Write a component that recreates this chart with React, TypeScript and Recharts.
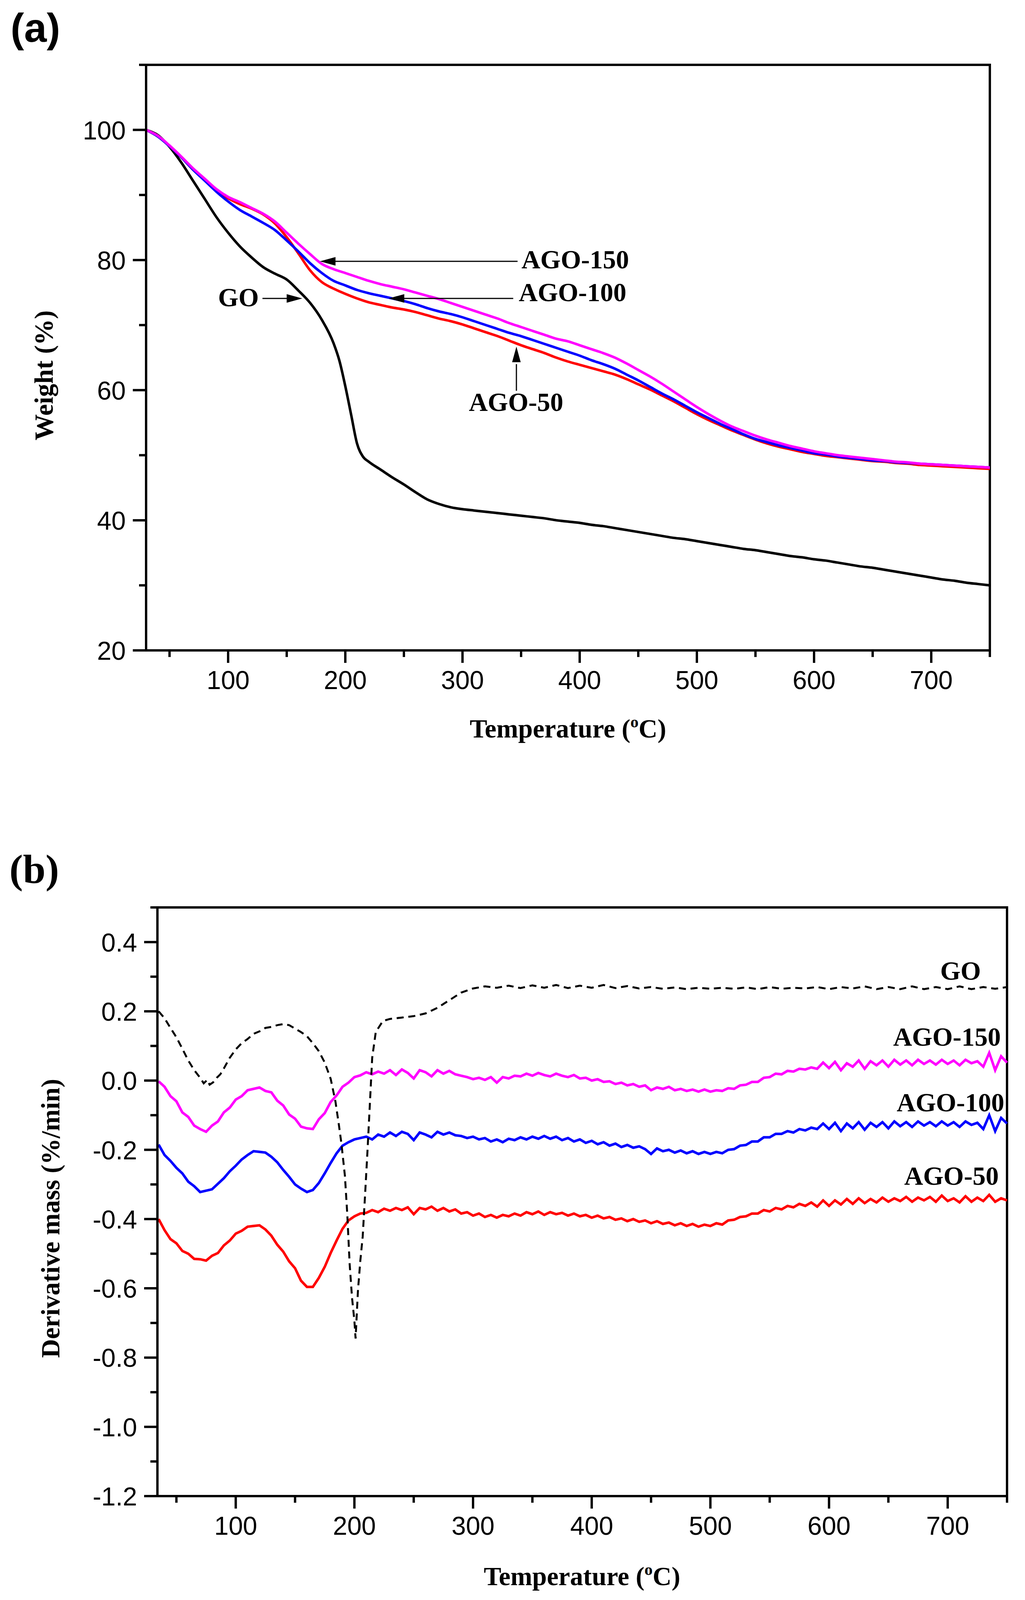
import React from 'react';
import { ComposedChart, Line, Scatter, XAxis, YAxis, ReferenceArea } from 'recharts';

const SANS = '"Liberation Sans", Arial, Helvetica, sans-serif';
const SERIF = '"Liberation Serif", "Times New Roman", Times, serif';

// ---------- (a) TGA ----------
const tgaTemps = [
  30, 40, 50, 60, 70, 80, 90, 100, 110, 120,
  130, 140, 150, 160, 170, 180, 190, 200, 210, 220,
  230, 240, 250, 260, 270, 280, 290, 300, 310, 320,
  330, 340, 350, 360, 370, 380, 390, 400, 410, 420,
  430, 440, 450, 460, 470, 480, 490, 500, 510, 520,
  530, 540, 550, 560, 570, 580, 590, 600, 610, 620,
  630, 640, 650, 660, 670, 680, 690, 700, 710, 720,
  730, 740, 750,
];
const tgaAgo150 = [
  100.0, 99.1, 97.6, 95.9, 94.1, 92.5, 90.9, 89.7, 88.9, 88.0,
  87.1, 85.9, 84.2, 82.5, 80.9, 79.4, 78.6, 78.0, 77.4, 76.8,
  76.3, 75.9, 75.5, 75.0, 74.5, 74.0, 73.4, 72.8, 72.2, 71.6,
  71.0, 70.3, 69.7, 69.1, 68.5, 67.9, 67.5, 66.9, 66.3, 65.7,
  65.0, 64.1, 63.1, 62.1, 61.0, 59.8, 58.6, 57.4, 56.3, 55.3,
  54.4, 53.7, 53.0, 52.4, 51.9, 51.4, 51.0, 50.6, 50.3, 50.0,
  49.8, 49.6, 49.4, 49.2, 49.0, 48.9, 48.7, 48.6, 48.5, 48.4,
  48.3, 48.2, 48.1,
];
const tgaAgo100 = [
  100.0, 99.0, 97.5, 95.8, 93.9, 92.2, 90.5, 89.0, 87.7, 86.7,
  85.7, 84.6, 83.0, 81.3, 79.5, 78.0, 76.8, 76.1, 75.4, 74.9,
  74.5, 74.1, 73.7, 73.2, 72.6, 72.1, 71.7, 71.2, 70.6, 70.0,
  69.4, 68.8, 68.3, 67.7, 67.1, 66.5, 65.9, 65.3, 64.6, 64.0,
  63.3, 62.4, 61.5, 60.5, 59.5, 58.6, 57.6, 56.6, 55.7, 54.8,
  54.0, 53.2, 52.5, 52.0, 51.5, 51.1, 50.7, 50.3, 50.1, 49.8,
  49.6, 49.4, 49.2, 49.1, 48.9, 48.8, 48.7, 48.6, 48.5, 48.4,
  48.3, 48.2, 48.1,
];
const tgaAgo50 = [
  100.0, 99.0, 97.5, 95.8, 93.9, 92.3, 90.8, 89.5, 88.6, 87.9,
  87.0, 85.6, 83.5, 81.0, 78.4, 76.6, 75.6, 74.8, 74.1, 73.5,
  73.1, 72.7, 72.4, 72.0, 71.5, 71.0, 70.6, 70.1, 69.5, 68.9,
  68.3, 67.6, 66.9, 66.3, 65.7, 65.0, 64.4, 63.9, 63.4, 62.9,
  62.4, 61.7, 60.9, 60.1, 59.2, 58.3, 57.3, 56.3, 55.4, 54.6,
  53.8, 53.1, 52.4, 51.8, 51.3, 50.9, 50.5, 50.2, 49.9, 49.7,
  49.5, 49.3, 49.1, 49.0, 48.8, 48.7, 48.5, 48.4, 48.3, 48.2,
  48.1, 48.0, 47.9,
];
const tgaGoTemps = [
  30, 40, 50, 60, 70, 80, 90, 100, 110, 120,
  130, 140, 150, 160, 170, 180, 190, 195, 200, 205,
  210, 215, 220, 230, 240, 250, 260, 270, 280, 290,
  300, 310, 320, 330, 340, 350, 360, 370, 380, 390,
  400, 410, 420, 430, 440, 450, 460, 470, 480, 490,
  500, 510, 520, 530, 540, 550, 560, 570, 580, 590,
  600, 610, 620, 630, 640, 650, 660, 670, 680, 690,
  700, 710, 720, 730, 740, 750,
];
const tgaGo = [
  100.0, 99.2, 97.4, 95.0, 92.2, 89.4, 86.6, 84.2, 82.1, 80.4,
  78.9, 77.9, 77.0, 75.3, 73.4, 70.8, 67.2, 64.5, 60.6, 56.2,
  51.8, 49.8, 49.0, 47.8, 46.6, 45.5, 44.3, 43.2, 42.5, 42.0,
  41.7, 41.5, 41.3, 41.1, 40.9, 40.7, 40.5, 40.3, 40.0, 39.8,
  39.6, 39.3, 39.1, 38.8, 38.5, 38.2, 37.9, 37.6, 37.3, 37.1,
  36.8, 36.5, 36.2, 35.9, 35.6, 35.4, 35.1, 34.8, 34.5, 34.3,
  34.0, 33.8, 33.5, 33.2, 32.9, 32.7, 32.4, 32.1, 31.8, 31.5,
  31.2, 30.9, 30.7, 30.4, 30.2, 30.0,
];
const tgaXMajor = [100, 200, 300, 400, 500, 600, 700];
const tgaXMinor = [50, 150, 250, 350, 450, 550, 650, 750];
const tgaYMajor = [20, 40, 60, 80, 100];
const tgaYMinor = [30, 50, 70, 90, 110];

// annotations for (a)
const tgaArrowTips = [
  { t: 163.3, v: 74.1, dir: 'right' },
  { t: 178.3, v: 79.8, dir: 'left' },
  { t: 237.0, v: 74.1, dir: 'left' },
  { t: 346.0, v: 66.7, dir: 'up' },
];
const tgaArrowGo = [{ t: 129.3, v: 74.1 }, { t: 160.0, v: 74.1 }];
const tgaArrow150 = [{ t: 185.0, v: 79.8 }, { t: 347.0, v: 79.8 }];
const tgaArrow100 = [{ t: 243.0, v: 74.1 }, { t: 343.3, v: 74.1 }];
const tgaArrow50 = [{ t: 346.0, v: 59.9 }, { t: 346.0, v: 64.0 }];
const tgaLabels = [
  { t: 126.2, v: 72.9, text: 'GO', anchor: 'end' },
  { t: 350.3, v: 78.7, text: 'AGO-150', anchor: 'start' },
  { t: 348.0, v: 73.7, text: 'AGO-100', anchor: 'start' },
  { t: 345.7, v: 56.8, text: 'AGO-50', anchor: 'middle' },
];

// ---------- (b) DTG ----------
const dtgTemps = [
  35, 40, 45, 50, 55, 60, 65, 70, 75, 80,
  85, 90, 95, 100, 105, 110, 115, 120, 125, 130,
  135, 140, 145, 150, 155, 160, 165, 170, 175, 180,
  185, 190, 195, 200, 205, 210, 215, 220, 225, 230,
  235, 240, 245, 250, 255, 260, 265, 270, 275, 280,
  285, 290, 295, 300, 305, 310, 315, 320, 325, 330,
  335, 340, 345, 350, 355, 360, 365, 370, 375, 380,
  385, 390, 395, 400, 405, 410, 415, 420, 425, 430,
  435, 440, 445, 450, 455, 460, 465, 470, 475, 480,
  485, 490, 495, 500, 505, 510, 515, 520, 525, 530,
  535, 540, 545, 550, 555, 560, 565, 570, 575, 580,
  585, 590, 595, 600, 605, 610, 615, 620, 625, 630,
  635, 640, 645, 650, 655, 660, 665, 670, 675, 680,
  685, 690, 695, 700, 705, 710, 715, 720, 725, 730,
  735, 740, 745, 750,
];
const dtgAgo150 = [
  -0.002, -0.018, -0.045, -0.060, -0.092, -0.105, -0.130, -0.140, -0.148, -0.130,
  -0.118, -0.092, -0.078, -0.055, -0.045, -0.028, -0.024, -0.020, -0.030, -0.034,
  -0.058, -0.072, -0.098, -0.110, -0.133, -0.138, -0.140, -0.112, -0.094, -0.062,
  -0.043, -0.018, -0.006, 0.010, 0.015, 0.024, 0.018, 0.026, 0.020, 0.030,
  0.016, 0.032, 0.022, 0.006, 0.030, 0.024, 0.012, 0.030, 0.020, 0.028,
  0.018, 0.014, 0.010, 0.004, 0.008, 0.002, 0.010, -0.006, 0.010, 0.006,
  0.014, 0.012, 0.020, 0.014, 0.022, 0.016, 0.012, 0.020, 0.014, 0.010,
  0.016, 0.006, 0.008, 0.000, 0.004, -0.004, -0.002, -0.010, -0.006, -0.014,
  -0.010, -0.018, -0.014, -0.028, -0.020, -0.024, -0.018, -0.028, -0.024, -0.030,
  -0.026, -0.032, -0.026, -0.032, -0.028, -0.030, -0.022, -0.024, -0.014, -0.012,
  -0.004, -0.004, 0.008, 0.010, 0.020, 0.018, 0.028, 0.026, 0.034, 0.032,
  0.038, 0.034, 0.052, 0.036, 0.054, 0.030, 0.050, 0.040, 0.058, 0.034,
  0.056, 0.044, 0.058, 0.040, 0.060, 0.046, 0.058, 0.044, 0.060, 0.048,
  0.058, 0.046, 0.060, 0.048, 0.058, 0.044, 0.060, 0.050, 0.056, 0.040,
  0.080, 0.030, 0.070, 0.052,
];
const dtgAgo100 = [
  -0.185, -0.215, -0.232, -0.252, -0.268, -0.292, -0.305, -0.322, -0.318, -0.314,
  -0.298, -0.282, -0.262, -0.246, -0.228, -0.215, -0.204, -0.206, -0.208, -0.220,
  -0.236, -0.258, -0.278, -0.300, -0.312, -0.322, -0.316, -0.296, -0.268, -0.238,
  -0.210, -0.188, -0.178, -0.170, -0.166, -0.162, -0.170, -0.156, -0.162, -0.150,
  -0.160, -0.148, -0.154, -0.172, -0.150, -0.156, -0.164, -0.148, -0.156, -0.150,
  -0.158, -0.160, -0.166, -0.162, -0.170, -0.166, -0.176, -0.170, -0.178, -0.168,
  -0.172, -0.164, -0.170, -0.162, -0.168, -0.160, -0.168, -0.162, -0.172, -0.166,
  -0.176, -0.170, -0.180, -0.174, -0.184, -0.178, -0.188, -0.182, -0.192, -0.186,
  -0.194, -0.190, -0.198, -0.212, -0.196, -0.204, -0.200, -0.208, -0.202, -0.210,
  -0.204, -0.212, -0.206, -0.212, -0.206, -0.210, -0.200, -0.198, -0.188, -0.186,
  -0.176, -0.176, -0.164, -0.164, -0.154, -0.154, -0.146, -0.150, -0.140, -0.144,
  -0.136, -0.140, -0.124, -0.140, -0.122, -0.146, -0.124, -0.138, -0.120, -0.142,
  -0.122, -0.134, -0.120, -0.138, -0.118, -0.132, -0.120, -0.134, -0.118, -0.130,
  -0.120, -0.132, -0.118, -0.130, -0.120, -0.134, -0.118, -0.128, -0.122, -0.140,
  -0.100, -0.146, -0.108, -0.124,
];
const dtgAgo50 = [
  -0.400, -0.432, -0.458, -0.470, -0.492, -0.500, -0.515, -0.516, -0.520, -0.506,
  -0.498, -0.476, -0.462, -0.442, -0.434, -0.422, -0.420, -0.418, -0.430, -0.448,
  -0.474, -0.494, -0.522, -0.542, -0.578, -0.596, -0.596, -0.570, -0.538, -0.498,
  -0.462, -0.428, -0.404, -0.392, -0.384, -0.382, -0.374, -0.380, -0.370, -0.376,
  -0.368, -0.374, -0.366, -0.386, -0.368, -0.372, -0.364, -0.376, -0.368, -0.378,
  -0.372, -0.384, -0.380, -0.390, -0.384, -0.394, -0.388, -0.396, -0.388, -0.392,
  -0.384, -0.390, -0.380, -0.386, -0.378, -0.388, -0.380, -0.386, -0.382, -0.390,
  -0.384, -0.392, -0.388, -0.396, -0.390, -0.398, -0.394, -0.402, -0.398, -0.406,
  -0.400, -0.408, -0.404, -0.412, -0.406, -0.414, -0.410, -0.418, -0.412, -0.420,
  -0.414, -0.422, -0.416, -0.420, -0.412, -0.416, -0.404, -0.402, -0.394, -0.392,
  -0.384, -0.384, -0.374, -0.378, -0.368, -0.372, -0.362, -0.366, -0.356, -0.362,
  -0.352, -0.364, -0.346, -0.362, -0.346, -0.358, -0.342, -0.356, -0.340, -0.354,
  -0.342, -0.352, -0.338, -0.350, -0.340, -0.348, -0.336, -0.350, -0.338, -0.346,
  -0.336, -0.350, -0.332, -0.348, -0.340, -0.352, -0.334, -0.350, -0.338, -0.348,
  -0.330, -0.350, -0.340, -0.346,
];
const dtgGoTemps = [
  35, 40, 45, 50, 55, 60, 65, 70, 73, 76,
  78, 81, 84, 87, 90, 95, 100, 105, 110, 115,
  120, 125, 130, 135, 140, 145, 150, 155, 160, 165,
  170, 175, 180, 184, 187, 189, 192, 194, 196, 198,
  200, 201, 203, 205, 207, 209, 211, 213, 215, 218,
  224, 230, 240, 250, 260, 270, 280, 290, 300, 310,
  320, 330, 340, 350, 360, 370, 380, 390, 400, 410,
  420, 430, 440, 450, 460, 470, 480, 490, 500, 510,
  520, 530, 540, 550, 560, 570, 580, 590, 600, 610,
  620, 630, 640, 650, 660, 670, 680, 690, 700, 710,
  720, 730, 740, 750,
];
const dtgGo = [
  0.200, 0.180, 0.152, 0.125, 0.092, 0.058, 0.030, 0.008, -0.008, 0.002,
  -0.012, -0.005, 0.008, 0.018, 0.035, 0.066, 0.090, 0.108, 0.120, 0.135,
  0.142, 0.152, 0.155, 0.160, 0.163, 0.160, 0.150, 0.140, 0.128, 0.108,
  0.085, 0.052, 0.005, -0.060, -0.130, -0.180, -0.275, -0.386, -0.530, -0.627,
  -0.694, -0.745, -0.606, -0.520, -0.450, -0.330, -0.205, -0.070, 0.066, 0.140,
  0.172, 0.178, 0.182, 0.186, 0.194, 0.210, 0.232, 0.254, 0.266, 0.272,
  0.268, 0.274, 0.267, 0.275, 0.268, 0.276, 0.267, 0.274, 0.268, 0.276,
  0.267, 0.273, 0.266, 0.270, 0.265, 0.269, 0.264, 0.268, 0.265, 0.268,
  0.265, 0.269, 0.264, 0.270, 0.265, 0.268, 0.266, 0.270, 0.264, 0.270,
  0.266, 0.272, 0.264, 0.270, 0.264, 0.272, 0.264, 0.270, 0.264, 0.272,
  0.264, 0.270, 0.265, 0.270,
];
const dtgXMajor = [100, 200, 300, 400, 500, 600, 700];
const dtgXMinor = [50, 150, 250, 350, 450, 550, 650, 750];
const dtgYMajor = [-1.2, -1.0, -0.8, -0.6, -0.4, -0.2, 0.0, 0.2, 0.4];
const dtgYMinor = [-1.1, -0.9, -0.7, -0.5, -0.3, -0.1, 0.1, 0.3, 0.5];
const dtgLabels = [
  { t: 728.0, v: 0.291, text: 'GO', anchor: 'end' },
  { t: 744.7, v: 0.1003, text: 'AGO-150', anchor: 'end' },
  { t: 747.7, v: -0.0886, text: 'AGO-100', anchor: 'end' },
  { t: 743.0, v: -0.3013, text: 'AGO-50', anchor: 'end' },
];

// ---------- helpers ----------
const toPoints = (ts: number[], vs: number[]) => ts.map((t, i) => ({ t, v: vs[i] }));
const isMajor = (val: number, majors: number[]) => majors.some((m) => Math.abs(m - val) < 1e-6);
const sortTicks = (a: number[], b: number[]) => [...a, ...b].sort((p, q) => p - q);

const TICK_FS = 66;
const LABEL_FS = 67;
const PAGE_H = 4096; // the photographed area is 4096 px tall

const makeXTick = (majors: number[]) => (props: any) => {
  const { x, y, payload } = props;
  const val = payload.value;
  const major = isMajor(val, majors);
  return (
    <g>
      <line x1={x} y1={y} x2={x} y2={y + (major ? 32 : 17)} stroke="#000" strokeWidth={6} />
      {major ? (
        <text x={x} y={y + 99} textAnchor="middle" fontFamily={SANS} fontSize={TICK_FS} fill="#000">
          {String(Math.round(val))}
        </text>
      ) : null}
    </g>
  );
};

const makeYTick = (majors: number[], fmt: (v: number) => string) => (props: any) => {
  const { x, y, payload } = props;
  const val = payload.value;
  const major = isMajor(val, majors);
  return (
    <g>
      <line x1={x} y1={y} x2={x - (major ? 34 : 18)} y2={y} stroke="#000" strokeWidth={6} />
      {major ? (
        <text x={x - 52} y={y + 24} textAnchor="end" fontFamily={SANS} fontSize={TICK_FS} fill="#000">
          {fmt(val)}
        </text>
      ) : null}
    </g>
  );
};

const ArrowHead = (props: any) => {
  const { cx, cy, payload } = props;
  const L = 40;
  const H = 11;
  let pts = '';
  if (payload.dir === 'left') pts = `${cx},${cy} ${cx + L},${cy - H} ${cx + L},${cy + H}`;
  else if (payload.dir === 'right') pts = `${cx},${cy} ${cx - L},${cy - H} ${cx - L},${cy + H}`;
  else pts = `${cx},${cy} ${cx - H},${cy + L} ${cx + H},${cy + L}`;
  return <polygon points={pts} fill="#000" />;
};

const AnnText = (props: any) => {
  const { cx, cy, payload } = props;
  return (
    <text x={cx} y={cy} textAnchor={payload.anchor} fontFamily={SERIF} fontWeight="bold" fontSize={LABEL_FS} fill="#000">
      {payload.text}
    </text>
  );
};

const TempTitle = ({ x, y }: { x: number; y: number }) => (
  <text x={x} y={y} textAnchor="middle" fontFamily={SERIF} fontWeight="bold" fontSize={LABEL_FS} fill="#000">
    Temperature (<tspan dy={-26} fontSize={42}>o</tspan>
    <tspan dy={26}>C)</tspan>
  </text>
);

export default function App() {
  const goTga = toPoints(tgaGoTemps, tgaGo);
  const a150 = toPoints(tgaTemps, tgaAgo150);
  const a100 = toPoints(tgaTemps, tgaAgo100);
  const a50 = toPoints(tgaTemps, tgaAgo50);

  const dGo = toPoints(dtgGoTemps, dtgGo);
  const d150 = toPoints(dtgTemps, dtgAgo150);
  const d100 = toPoints(dtgTemps, dtgAgo100);
  const d50 = toPoints(dtgTemps, dtgAgo50);

  const axisLine = { stroke: '#000', strokeWidth: 6 };

  return (
    <div style={{ position: 'absolute', left: 0, top: 0, width: 2624, height: PAGE_H, background: '#fff', overflow: 'hidden' }}>
      <div style={{ position: 'absolute', left: 0, top: 0 }}>
        <ComposedChart width={2624} height={2072} margin={{ top: 166, right: 90, bottom: 207, left: 174 }}>
          <XAxis
            type="number"
            dataKey="t"
            domain={[30, 750]}
            ticks={sortTicks(tgaXMajor, tgaXMinor)}
            interval={0}
            tickSize={0}
            tickMargin={0}
            tickLine={false}
            tick={makeXTick(tgaXMajor)}
            axisLine={axisLine}
            height={200}
          />
          <YAxis
            type="number"
            dataKey="v"
            domain={[20, 110]}
            ticks={sortTicks(tgaYMajor, tgaYMinor)}
            interval={0}
            tickSize={0}
            tickMargin={0}
            tickLine={false}
            tick={makeYTick(tgaYMajor, (v) => String(Math.round(v)))}
            axisLine={axisLine}
            width={200}
          />
          <ReferenceArea x1={30} x2={750} y1={20} y2={110} fill="none" fillOpacity={0} stroke="#000" strokeWidth={6} />
          <Line data={goTga} dataKey="v" type="monotone" stroke="#000000" strokeWidth={6.5} dot={false} isAnimationActive={false} />
          <Line data={a50} dataKey="v" type="monotone" stroke="#FF0000" strokeWidth={6.5} dot={false} isAnimationActive={false} />
          <Line data={a100} dataKey="v" type="monotone" stroke="#0000FF" strokeWidth={6.5} dot={false} isAnimationActive={false} />
          <Line data={a150} dataKey="v" type="monotone" stroke="#FF00FF" strokeWidth={6.5} dot={false} isAnimationActive={false} />
          <Line data={tgaArrowGo} dataKey="v" type="linear" stroke="#000" strokeWidth={3} dot={false} isAnimationActive={false} />
          <Line data={tgaArrow150} dataKey="v" type="linear" stroke="#000" strokeWidth={3} dot={false} isAnimationActive={false} />
          <Line data={tgaArrow100} dataKey="v" type="linear" stroke="#000" strokeWidth={3} dot={false} isAnimationActive={false} />
          <Line data={tgaArrow50} dataKey="v" type="linear" stroke="#000" strokeWidth={3} dot={false} isAnimationActive={false} />
          <Scatter data={tgaArrowTips} dataKey="v" shape={ArrowHead} isAnimationActive={false} />
          <Scatter data={tgaLabels} dataKey="v" shape={AnnText} isAnimationActive={false} />
        </ComposedChart>
      </div>

      <div style={{ position: 'absolute', left: 0, top: 2072 }}>
        <ComposedChart width={2624} height={2024} margin={{ top: 251, right: 46, bottom: 66, left: 203 }}>
          <XAxis
            type="number"
            dataKey="t"
            domain={[34, 750]}
            ticks={sortTicks(dtgXMajor, dtgXMinor)}
            interval={0}
            tickSize={0}
            tickMargin={0}
            tickLine={false}
            tick={makeXTick(dtgXMajor)}
            axisLine={axisLine}
            height={200}
          />
          <YAxis
            type="number"
            dataKey="v"
            domain={[-1.2, 0.5]}
            ticks={sortTicks(dtgYMajor, dtgYMinor)}
            interval={0}
            tickSize={0}
            tickMargin={0}
            tickLine={false}
            tick={makeYTick(dtgYMajor, (v) => v.toFixed(1))}
            axisLine={axisLine}
            width={200}
          />
          <ReferenceArea x1={34} x2={750} y1={-1.2} y2={0.5} fill="none" fillOpacity={0} stroke="#000" strokeWidth={6} />
          <Line data={d50} dataKey="v" type="linear" stroke="#FF0000" strokeWidth={6.5} dot={false} isAnimationActive={false} />
          <Line data={d100} dataKey="v" type="linear" stroke="#0000FF" strokeWidth={6.5} dot={false} isAnimationActive={false} />
          <Line data={d150} dataKey="v" type="linear" stroke="#FF00FF" strokeWidth={6.5} dot={false} isAnimationActive={false} />
          <Line data={dGo} dataKey="v" type="linear" stroke="#000000" strokeWidth={5} strokeDasharray="18 12" dot={false} isAnimationActive={false} />
          <Scatter data={dtgLabels} dataKey="v" shape={AnnText} isAnimationActive={false} />
        </ComposedChart>
      </div>

      <svg
        width={2624}
        height={PAGE_H}
        style={{ position: 'absolute', left: 0, top: 0, pointerEvents: 'none' }}
      >
        <text x={27} y={107} fontFamily={SANS} fontWeight="bold" fontSize={104} fill="#000">(a)</text>
        <text x={24} y={2260} fontFamily={SERIF} fontWeight="bold" fontSize={104} fill="#000">(b)</text>
        <TempTitle x={1454} y={1888} />
        <TempTitle x={1490} y={4058} />
        <text transform="translate(135,961) rotate(-90)" textAnchor="middle" fontFamily={SERIF} fontWeight="bold" fontSize={LABEL_FS} fill="#000">
          Weight (%)
        </text>
        <text transform="translate(152,3119) rotate(-90)" textAnchor="middle" fontFamily={SERIF} fontWeight="bold" fontSize={LABEL_FS} fill="#000">
          Derivative mass (%/min)
        </text>
      </svg>
    </div>
  );
}
